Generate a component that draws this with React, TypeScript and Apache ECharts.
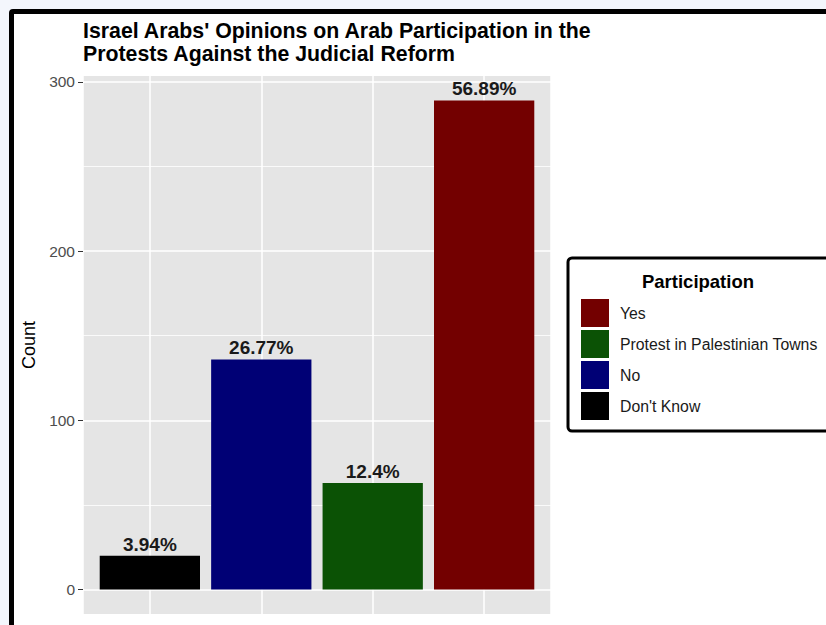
import React, { useEffect, useRef } from "react";
import * as echarts from "echarts";

const categories = ["Don't Know", "No", "Protest in Palestinian Towns", "Yes"];
const counts = [20, 136, 63, 289];
const colors = ["#000000", "#000075", "#0b5205", "#730000"];
const legendOrder = ["Yes", "Protest in Palestinian Towns", "No", "Don't Know"];
const yTicks = [0, 100, 200, 300];
const yMinorTicks = [50, 150, 250];
const titleText =
  "Israel Arabs' Opinions on Arab Participation in the\nProtests Against the Judicial Reform";
const legendTitle = "Participation";
const yAxisTitle = "Count";

const FONT = '"Liberation Sans", Arial, Helvetica, sans-serif';

export default function App() {
  const ref = useRef<HTMLDivElement>(null);

  useEffect(() => {
    if (!ref.current) return;
    const chart = echarts.init(ref.current, null, { renderer: "svg" });
    const total = counts.reduce((a, b) => a + b, 0);
    const labels = counts.map((c) => `${Math.round((c / total) * 10000) / 100}%`);
    const yMax = Math.max(...counts);
    const yMin = -0.05 * yMax;
    const yTop = yMax * 1.05;

    const barSeries = categories.map((name, i) => ({
      type: "custom" as const,
      name,
      z: 3,
      itemStyle: { color: colors[i] },
      data: [[i + 1, counts[i]]],
      encode: { x: 0, y: 1 },
      renderItem: (_params: any, api: any) => {
        const x = api.value(0) as number;
        const v = api.value(1) as number;
        const tl = api.coord([x - 0.45, v]);
        const br = api.coord([x + 0.45, 0]);
        return {
          type: "group",
          children: [
            {
              type: "rect",
              shape: { x: tl[0], y: tl[1], width: br[0] - tl[0], height: br[1] - tl[1] },
              style: { fill: colors[i] },
            },
            {
              type: "text",
              x: (tl[0] + br[0]) / 2,
              y: tl[1] - 2,
              style: {
                text: labels[i],
                align: "center",
                verticalAlign: "bottom",
                font: `bold 19px ${FONT}`,
                fill: "#1a1a1a",
              },
            },
          ],
        };
      },
    }));

    chart.setOption({
      animation: false,
      backgroundColor: "transparent",
      textStyle: { fontFamily: FONT },
      title: {
        text: titleText,
        left: 83,
        top: 19,
        padding: 0,
        textStyle: {
          fontFamily: FONT,
          fontSize: 21.3,
          fontWeight: "bold",
          color: "#000",
          lineHeight: 23.5,
        },
      },
      grid: {
        left: 83,
        top: 76,
        width: 468,
        height: 538,
        show: true,
        backgroundColor: "#e5e5e5",
        borderWidth: 0,
        containLabel: false,
      },
      xAxis: {
        type: "value",
        min: 0.4,
        max: 4.6,
        minInterval: 1,
        maxInterval: 1,
        axisLine: { show: false },
        axisTick: { show: false },
        axisLabel: { show: false },
        splitLine: { show: true, lineStyle: { color: "#ffffff", width: 1.5 } },
      },
      yAxis: {
        type: "value",
        min: yMin,
        max: yTop,
        splitNumber: 3,
        minInterval: 100,
        maxInterval: 100,
        name: yAxisTitle,
        nameLocation: "middle",
        nameRotate: 90,
        nameGap: 42,
        nameTextStyle: { fontFamily: FONT, fontSize: 18, color: "#000" },
        axisLine: { show: false },
        axisTick: {
          show: true,
          length: 5,
          customValues: yTicks,
          lineStyle: { color: "#333333", width: 1 },
        },
        axisLabel: {
          show: true,
          margin: 8,
          customValues: yTicks,
          fontFamily: FONT,
          fontSize: 15.5,
          color: "#4d4d4d",
        },
        splitLine: { show: true, lineStyle: { color: "#ffffff", width: 1.5 } },
      },
      legend: {
        show: true,
        orient: "vertical",
        left: 581,
        top: 299,
        padding: 0,
        itemWidth: 28,
        itemHeight: 28,
        itemGap: 3,
        icon: "rect",
        selectedMode: false,
        data: legendOrder,
        textStyle: {
          fontFamily: FONT,
          fontSize: 15.8,
          color: "#1a1a1a",
          padding: [0, 0, 0, 6],
        },
      },
      graphic: [
        {
          type: "rect",
          z: -1,
          shape: { x: 568, y: 258, width: 300, height: 173, r: 4 },
          style: { fill: "#ffffff", stroke: "#000000", lineWidth: 3 },
        },
        {
          type: "text",
          x: 698,
          y: 281,
          style: {
            text: legendTitle,
            align: "center",
            verticalAlign: "middle",
            font: `bold 18.5px ${FONT}`,
            fill: "#000",
          },
        },
      ],
      series: [
        {
          type: "line",
          data: [],
          z: 1,
          silent: true,
          markLine: {
            silent: true,
            z: 1,
            symbol: "none",
            label: { show: false },
            lineStyle: { color: "#ffffff", width: 0.8, type: "solid" },
            emphasis: { disabled: true },
            data: yMinorTicks.map((v) => ({ yAxis: v })),
          },
        },
        ...barSeries,
      ],
    });

    return () => chart.dispose();
  }, []);

  return (
    <div
      style={{
        position: "fixed",
        left: 0,
        top: 0,
        width: 826,
        height: 625,
        overflow: "hidden",
        background: "#f3f6fc",
      }}
    >
      <div
        style={{
          position: "absolute",
          left: 9,
          top: 9,
          width: 900,
          height: 700,
          border: "5px solid #000",
          background: "#ffffff",
          borderRadius: 4,
        }}
      />
      <div
        ref={ref}
        style={{ position: "absolute", left: 0, top: 0, width: 826, height: 625 }}
      />
    </div>
  );
}
